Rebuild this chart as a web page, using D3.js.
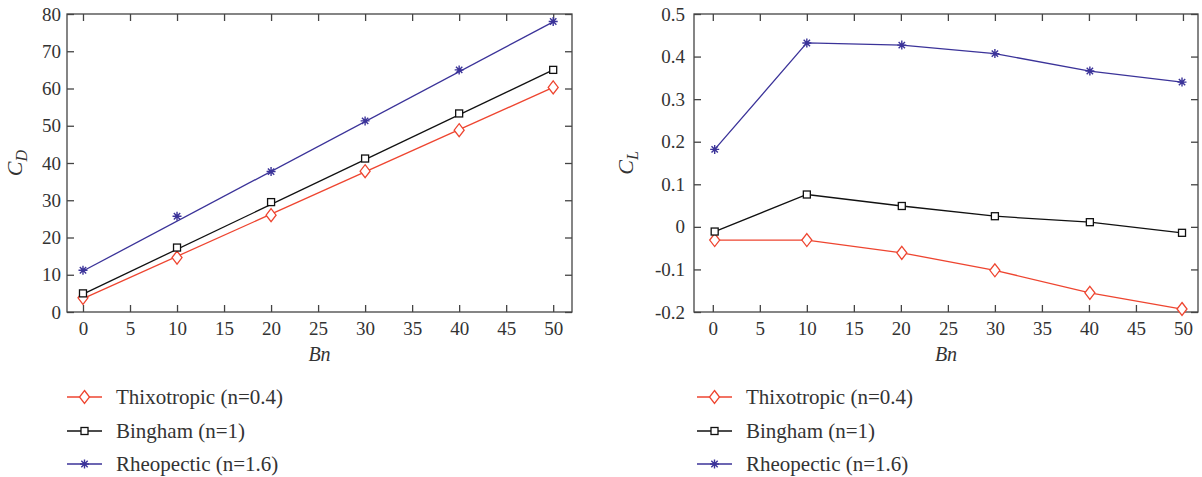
<!DOCTYPE html>
<html>
<head>
<meta charset="utf-8">
<script src="https://cdn.jsdelivr.net/npm/d3@7"></script>
<style>
body{margin:0;background:#fff;}
</style>
</head>
<body>
<div id="canvas"></div>
<script>
// data
var bn = [0, 10, 20, 30, 40, 50];
var bnR = [0.2, 10, 20.1, 30, 40.1, 49.9];

var cdThixo = [3.8, 14.6, 26.0, 37.8, 48.8, 60.3];
var cdBingham = [5.0, 17.3, 29.5, 41.2, 53.3, 65.0];
var cdRheo = [11.2, 25.7, 37.7, 51.3, 65.0, 78.0];
// fitted lines drawn in the left panel (values at Bn=0 and Bn=50)
var cdThixoFit = [3.6, 60.3];
var cdBinghamFit = [4.8, 65.0];
var cdRheoFit = [11.0, 77.9];

var clThixo = [-0.031, -0.031, -0.061, -0.102, -0.155, -0.193];
var clBingham = [-0.011, 0.076, 0.049, 0.025, 0.011, -0.014];
var clRheo = [0.182, 0.432, 0.427, 0.407, 0.366, 0.340];

var xTicks = [0, 5, 10, 15, 20, 25, 30, 35, 40, 45, 50];
var cdTicks = [0, 10, 20, 30, 40, 50, 60, 70, 80];
var clTicks = [-0.2, -0.1, 0, 0.1, 0.2, 0.3, 0.4, 0.5];
var legendNames = ["Thixotropic (n=0.4)", "Bingham (n=1)", "Rheopectic (n=1.6)"];

var colors = {thixo: "#ee4530", bingham: "#111", rheo: "#3b3399"};
var FONT = "Liberation Serif";

var svg = d3.select("#canvas").append("svg")
	.attr("width", 1202)
	.attr("height", 477);

function marker(g, type, x, y, color){
	if(type == "thixo"){
		g.append("path")
			.attr("d", "M" + x + "," + (y - 6.5) + "L" + (x + 5) + "," + y + "L" + x + "," + (y + 6.5) + "L" + (x - 5) + "," + y + "Z")
			.attr("fill", "#fff").attr("stroke", color).attr("stroke-width", 1.3);
	} else if(type == "bingham"){
		g.append("rect")
			.attr("x", x - 3.5).attr("y", y - 3.5).attr("width", 7).attr("height", 7)
			.attr("fill", "#fff").attr("stroke", color).attr("stroke-width", 1.3);
	} else {
		var r = 4.5;
		var d = "";
		[0, 45, 90, 135].forEach(function(a){
			var t = a * Math.PI / 180;
			d += "M" + (x - r * Math.cos(t)) + "," + (y - r * Math.sin(t)) + "L" + (x + r * Math.cos(t)) + "," + (y + r * Math.sin(t));
		});
		g.append("path").attr("d", d).attr("stroke", color).attr("stroke-width", 1.4);
	}
}

function panel(opt){
	var g = svg.append("g");
	var x = d3.scaleLinear().domain(opt.xDomain).range([opt.left, opt.right]);
	var y = d3.scaleLinear().domain(opt.yDomain).range([opt.bottom, opt.top]);
	var axisColor = "#444";

	// frame
	g.append("rect")
		.attr("x", opt.left).attr("y", opt.top)
		.attr("width", opt.right - opt.left).attr("height", opt.bottom - opt.top)
		.attr("fill", "none").attr("stroke", axisColor).attr("stroke-width", 1.3);

	// ticks inward, all four sides
	var bAxis = g.append("g").attr("transform", "translate(0," + opt.bottom + ")")
		.call(d3.axisBottom(x).tickValues(xTicks).tickSize(-7).tickPadding(10).tickFormat(d3.format("d")));
	var tAxis = g.append("g").attr("transform", "translate(0," + opt.top + ")")
		.call(d3.axisTop(x).tickValues(xTicks).tickSize(-7).tickFormat(""));
	var lAxis = g.append("g").attr("transform", "translate(" + opt.left + ",0)")
		.call(d3.axisLeft(y).tickValues(opt.yTicks).tickSize(-7).tickPadding(opt.yPad).tickFormat(opt.yFormat));
	var rAxis = g.append("g").attr("transform", "translate(" + opt.right + ",0)")
		.call(d3.axisRight(y).tickValues(opt.yTicks).tickSize(-7).tickFormat(""));
	[bAxis, tAxis, lAxis, rAxis].forEach(function(a){
		a.attr("font-family", FONT).attr("font-size", 19);
		a.select(".domain").remove();
		a.selectAll("line").attr("stroke", axisColor).attr("stroke-width", 1.3);
		a.selectAll("text").attr("fill", "#333");
	});

	// axis titles
	g.append("text")
		.attr("x", (opt.left + opt.right) / 2).attr("y", opt.bottom + 49)
		.attr("text-anchor", "middle")
		.attr("font-family", FONT).attr("font-size", 20).attr("font-style", "italic").attr("fill", "#333")
		.text("Bn");
	var yl = g.append("text")
		.attr("transform", "translate(" + opt.yLabelX + "," + ((opt.top + opt.bottom) / 2) + ") rotate(-90)")
		.attr("text-anchor", "middle")
		.attr("font-family", FONT).attr("font-size", 22).attr("font-style", "italic").attr("fill", "#333");
	yl.append("tspan").text("C");
	yl.append("tspan").attr("dy", 5).attr("font-size", 16).text(opt.sub);

	// series
	opt.series.forEach(function(s){
		var line = d3.line().x(function(d){ return x(d[0]); }).y(function(d){ return y(d[1]); });
		var lineData = s.fit ? [[0, s.fit[0]], [50, s.fit[1]]] : s.xs.map(function(v, i){ return [v, s.ys[i]]; });
		g.append("path").datum(lineData)
			.attr("d", line).attr("fill", "none")
			.attr("stroke", colors[s.type]).attr("stroke-width", 1.3);
		s.ys.forEach(function(v, i){
			marker(g, s.type, x(s.xs[i]), y(v), colors[s.type]);
		});
	});

	// legend
	var types = ["thixo", "bingham", "rheo"];
	types.forEach(function(t, i){
		var ly = opt.legendY[i];
		g.append("line")
			.attr("x1", opt.legendX).attr("x2", opt.legendX + 35)
			.attr("y1", ly).attr("y2", ly)
			.attr("stroke", colors[t]).attr("stroke-width", 1.3);
		marker(g, t, opt.legendX + 17.5, ly, colors[t]);
		g.append("text")
			.attr("x", opt.legendX + 49).attr("y", ly + 7)
			.attr("font-family", FONT).attr("font-size", 21).attr("fill", "#333")
			.text(legendNames[i]);
	});
}

panel({
	left: 67, right: 572, top: 14, bottom: 312,
	xDomain: [-1.7, 52], yDomain: [0, 80], yTicks: cdTicks, yPad: 6,
	yFormat: d3.format("d"), sub: "D", yLabelX: 22,
	legendX: 67, legendY: [397, 431, 464],
	series: [
		{type: "thixo", xs: bn, ys: cdThixo, fit: cdThixoFit},
		{type: "bingham", xs: bn, ys: cdBingham, fit: cdBinghamFit},
		{type: "rheo", xs: bn, ys: cdRheo, fit: cdRheoFit}
	]
});

panel({
	left: 694, right: 1198, top: 14, bottom: 312,
	xDomain: [-2, 51.6], yDomain: [-0.2, 0.5], yTicks: clTicks, yPad: 9,
	yFormat: function(d){ return d === 0 ? "0" : d3.format(".1f")(d).replace("\u2212", "-"); },
	sub: "L", yLabelX: 633,
	legendX: 697, legendY: [397, 431, 464],
	series: [
		{type: "thixo", xs: bnR, ys: clThixo},
		{type: "bingham", xs: bnR, ys: clBingham},
		{type: "rheo", xs: bnR, ys: clRheo}
	]
});
</script>
</body>
</html>
